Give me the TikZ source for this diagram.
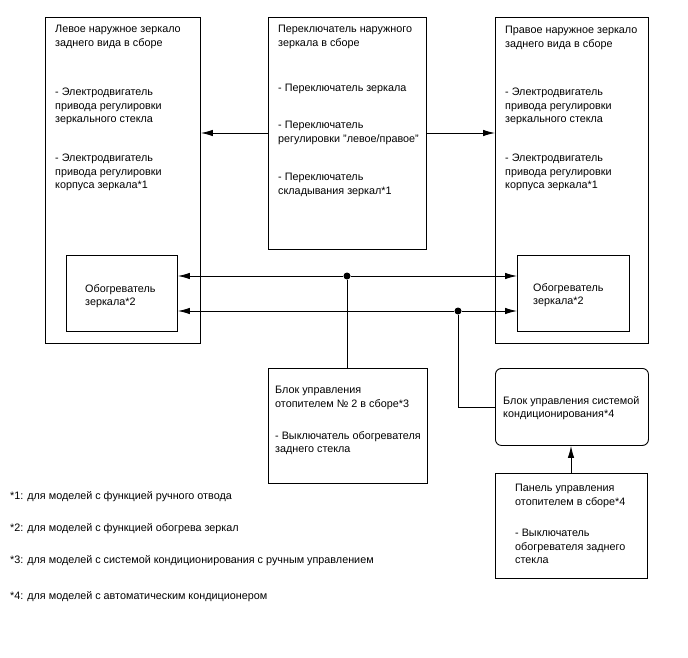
\documentclass[tikz,border=0pt]{standalone}
\usepackage{fontspec}
\setmainfont{Liberation Sans}
\usetikzlibrary{arrows.meta}
\begin{document}
\begin{tikzpicture}[x=1pt,y=-1pt,
  box/.style={draw, line width=0.9pt, inner sep=0pt, anchor=north west},
  rbox/.style={box, rounded corners=6pt},
  txt/.style={anchor=north west, inner sep=0pt, align=left, font=\fontsize{10.8}{13.6}\selectfont},
  wire/.style={line width=0.9pt},
  arr/.style={wire, -{Latex[length=12pt,width=6.5pt]}},
  dot/.style={circle, fill=black, inner sep=0pt, minimum size=7pt}]
\useasboundingbox (0,0) rectangle (688,658);
% boxes
\node[box, minimum width=155pt, minimum height=326pt] (L) at (45,17) {};
\node[box, minimum width=158pt, minimum height=232pt] (M) at (268,17) {};
\node[box, minimum width=153pt, minimum height=326pt] (R) at (495,17) {};
\node[box, minimum width=111pt, minimum height=76pt] (LH) at (66,255) {};
\node[box, minimum width=112pt, minimum height=76pt] (RH) at (517,255) {};
\node[box, minimum width=159pt, minimum height=115pt] (B3) at (268,368) {};
\node[rbox, minimum width=153pt, minimum height=77pt] (AC) at (495,368) {};
\node[box, minimum width=152pt, minimum height=105pt] (P) at (495,473) {};
% texts
\node[txt] (tL1) at (55,25) {Левое наружное зеркало\\заднего вида в сборе};
\node[txt] (tL2) at (55,88) {- Электродвигатель\\привода регулировки\\зеркального стекла};
\node[txt] (tL3) at (55,154) {- Электродвигатель\\привода регулировки\\корпуса зеркала*1};
\node[txt] (tM1) at (278,25) {Переключатель наружного\\зеркала в сборе};
\node[txt] (tM2) at (278,84) {- Переключатель зеркала};
\node[txt] (tM3) at (278,121) {- Переключатель\\регулировки "левое/правое"};
\node[txt] (tM4) at (278,173) {- Переключатель\\складывания зеркал*1};
\node[txt] (tR1) at (505,26) {Правое наружное зеркало\\заднего вида в сборе};
\node[txt] (tR2) at (505,88) {- Электродвигатель\\привода регулировки\\зеркального стекла};
\node[txt] (tR3) at (505,154) {- Электродвигатель\\привода регулировки\\корпуса зеркала*1};
\node[txt] (tLH) at (85,284) {Обогреватель\\зеркала*2};
\node[txt] (tRH) at (533,283) {Обогреватель\\зеркала*2};
\node[txt] (tB1) at (275,386) {Блок управления\\отопителем № 2 в сборе*3};
\node[txt] (tB2) at (275,431) {- Выключатель обогревателя\\заднего стекла};
\node[txt] (tAC) at (503,396) {Блок управления системой\\кондиционирования*4};
\node[txt] (tP1) at (515,484) {Панель управления\\отопителем в сборе*4};
\node[txt] (tP2) at (515,529) {- Выключатель\\обогревателя заднего\\стекла};
\node[txt] (f1) at (10,491) {*1: для моделей с функцией ручного отвода};
\node[txt] (f2) at (10,523) {*2: для моделей с функцией обогрева зеркал};
\node[txt] (f3) at (10,555) {*3: для моделей с системой кондиционирования с ручным управлением};
\node[txt] (f4) at (10,591) {*4: для моделей с автоматическим кондиционером};
% junctions
\node[dot] (j1) at (347,276) {};
\node[dot] (j2) at (458,311) {};
\coordinate (bend) at (458,407);
% connectors
\draw[arr] (M.west |- 0,133) -- (L.east |- 0,133);
\draw[arr] (M.east |- 0,133) -- (R.west |- 0,133);
\draw[arr] (j1) -- (LH.east |- j1);
\draw[arr] (j1) -- (RH.west |- j1);
\draw[arr] (j2) -- (LH.east |- j2);
\draw[arr] (j2) -- (RH.west |- j2);
\draw[wire] (j1) -- (B3.north -| j1);
\draw[wire] (j2) -- (bend) -- (AC.west |- bend);
\draw[arr] (P.north -| 571,0) -- (AC.south -| 571,0);
\end{tikzpicture}
\end{document}
